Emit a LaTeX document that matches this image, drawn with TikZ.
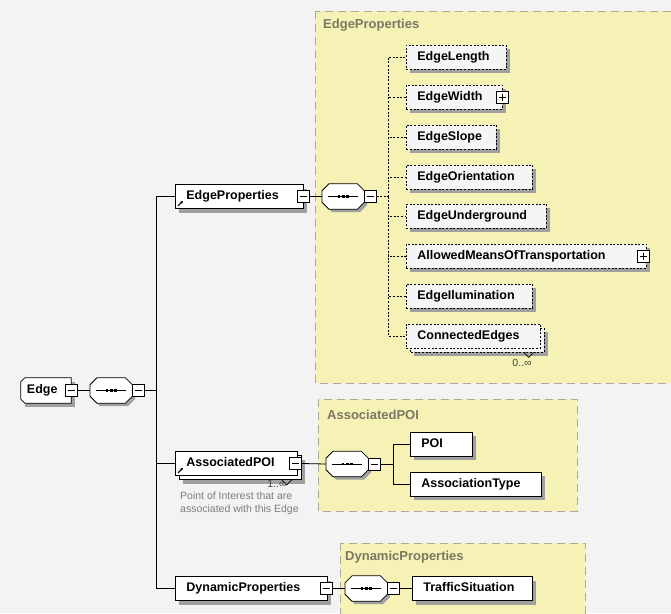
\documentclass[tikz,border=0pt]{standalone}
\usepackage{fontspec}
\setmainfont{Liberation Sans}
\usetikzlibrary{arrows.meta,calc}

\definecolor{bg}{RGB}{243,243,243}
\definecolor{panel}{RGB}{246,242,182}
\definecolor{panelline}{RGB}{172,170,152}
\definecolor{paneltext}{RGB}{122,120,100}
\definecolor{optfill}{RGB}{245,245,245}
\definecolor{note}{RGB}{125,125,125}
\definecolor{dropgray}{RGB}{160,160,160}

\tikzset{
  lbl/.style={font=\fontsize{12.5}{14}\selectfont\bfseries},
  elem/.style={lbl, rectangle, draw=black, line width=0.8pt, fill=white,
    anchor=west, minimum height=24pt, inner xsep=11pt, inner ysep=0pt,
    text height=9pt, text depth=3pt, align=left},
  optelem/.style={elem, fill=optfill, dash pattern=on 2pt off 1.6pt},
  seqnode/.style={rectangle, anchor=west, minimum width=42pt, minimum height=25pt, inner sep=0pt},
  minusbox/.style={rectangle, draw=black, line width=0.7pt, fill=white,
    minimum size=12pt, inner sep=0pt,
    path picture={\draw[line width=0.7pt] ([xshift=2.5pt]path picture bounding box.west) -- ([xshift=-2.5pt]path picture bounding box.east);}},
  plusbox/.style={minusbox,
    path picture={\draw[line width=0.7pt] ([xshift=2.5pt]path picture bounding box.west) -- ([xshift=-2.5pt]path picture bounding box.east)
      ([yshift=-2.5pt]path picture bounding box.north) -- ([yshift=2.5pt]path picture bounding box.south);}},
  panelbox/.style={fill=panel, draw=panelline, line width=1pt, dash pattern=on 8pt off 5pt},
  paneltitle/.style={anchor=west, text=paneltext, font=\fontsize{13}{15}\selectfont\bfseries, inner sep=0pt},
  link/.style={draw=black, line width=0.8pt},
  optlink/.style={draw=black, line width=0.7pt, dash pattern=on 2pt off 1.6pt},
  refarrow/.style={-{Stealth[length=3.2pt,width=3.2pt]}, line width=1.1pt},
  card/.style={font=\fontsize{10.5}{12}\selectfont, text=black!75, inner sep=0pt},
  notch/.style={draw=black, line width=0.7pt},
  dropfill/.style={fill=dropgray, draw=none}
}

% grey drop shadow of a box whose left edge is at #1, centre line at #2,
% width #3 and height #4, pushed #5 right and down
\newcommand{\dropbox}[5]{%
  \path[dropfill] (#1+#5,#2-#4/2+#5) rectangle (#1+#3+#5,#2+#4/2+#5);}
% grey drop shadow of a sequence compositor whose left edge is at #1, centre line at #2
\newcommand{\dropseq}[2]{%
  \path[dropfill] (#1+10,#2-9.5) -- (#1+38,#2-9.5) -- (#1+45,#2-2.5) -- (#1+45,#2+8.5)
    -- (#1+38,#2+15.5) -- (#1+10,#2+15.5) -- (#1+3,#2+8.5) -- (#1+3,#2-2.5) -- cycle;}
% octagonal sequence compositor drawn round a node
\newcommand{\seqglyph}[1]{%
  \filldraw[fill=white, draw=black, line width=0.8pt]
    ($(#1.north west)+(7,0)$) -- ($(#1.north east)+(-7,0)$)
    -- ($(#1.north east)+(0,7)$) -- ($(#1.south east)+(0,-7)$)
    -- ($(#1.south east)+(-7,0)$) -- ($(#1.south west)+(7,0)$)
    -- ($(#1.south west)+(0,-7)$) -- ($(#1.north west)+(0,7)$) -- cycle;
  \draw[line width=0.8pt] ($(#1.west)+(6,0)$) -- ($(#1.east)+(-6,0)$);
  \foreach \d in {-4.4,0,4.4}
    \fill ($(#1.center)+(\d-1.3,-1.3)$) rectangle ++(2.6,2.6);
}

\begin{document}
\begin{tikzpicture}[x=1pt,y=-1pt]
  \useasboundingbox (0,0) rectangle (671,613);
  \fill[bg] (0,0) rectangle (671,613);
  \path[panelbox] (315,11) rectangle (680,383);
  \path[panelbox] (318,399) rectangle (577,511);
  \path[panelbox] (340,543) rectangle (585,625);
  \node[paneltitle] (tEP) at (323,25) {EdgeProperties};
  \node[paneltitle] (tAP) at (327,415) {AssociatedPOI};
  \node[paneltitle] (tDP) at (345,557) {DynamicProperties};

  % drop shadows, drawn before the boxes that cast them
  \dropbox{21}{390.5}{50}{25}{4}
  \dropbox{175}{196.5}{128}{24}{4}
  \dropbox{175}{463.5}{122}{24}{8}
  \dropbox{175}{588.5}{152}{24}{4}
  \dropbox{410}{444}{62}{24}{4}
  \dropbox{410}{484}{131}{24}{4}
  \dropbox{412}{588.5}{120}{24}{4}
  \dropbox{406}{57}{100}{24}{4}
  \dropbox{406}{97}{96}{24}{4}
  \dropbox{406}{137}{90}{24}{4}
  \dropbox{406}{177}{126}{24}{4}
  \dropbox{406}{216}{140}{24}{4}
  \dropbox{406}{256}{240}{24}{4}
  \dropbox{406}{296}{126}{24}{4}
  \dropbox{406}{336}{134}{24}{8}
  \dropseq{90}{390.5}
  \dropseq{322}{196.5}
  \dropseq{326}{464}
  \dropseq{345}{588.5}

  % second sheet behind the repeatable elements
  \filldraw[fill=white, draw=black, line width=0.8pt] (179,455.5) rectangle (301,479.5);
  \filldraw[fill=optfill, draw=black, line width=0.8pt, dash pattern=on 2pt off 1.6pt]
    (410,328) rectangle (544,352);

  % root element: chamfered on its left side
  \node[rectangle, minimum width=50pt, minimum height=25pt, inner sep=0pt]
        (edge) at (46,390.5) {};
  \filldraw[fill=white, draw=black, line width=0.8pt]
    ($(edge.north west)+(4,0)$) -- (edge.north east) -- (edge.south east)
    -- ($(edge.south west)+(4,0)$) -- ($(edge.south west)+(0,-4)$) -- ($(edge.north west)+(0,4)$) -- cycle;
  \node[lbl, anchor=west, inner sep=0pt] (edgetext) at ([xshift=6pt]edge.west) {Edge};
  \node[minusbox] (edgem) at (edge.east) {};

  % sequence compositors
  \node[seqnode] (eseq) at (90,390.5) {};
  \node[seqnode] (epseq) at (322,196.5) {};
  \node[seqnode] (apseq) at (326,464) {};
  \node[seqnode] (dpseq) at (345,588.5) {};
  \seqglyph{eseq}
  \seqglyph{epseq}
  \seqglyph{apseq}
  \seqglyph{dpseq}
  \node[minusbox, anchor=west] (eseqm) at ([xshift=-0.5pt]eseq.east) {};
  \node[minusbox, anchor=west] (epseqm) at ([xshift=-0.5pt]epseq.east) {};
  \node[minusbox, anchor=west] (apseqm) at ([xshift=-0.5pt]apseq.east) {};
  \node[minusbox, anchor=west] (dpseqm) at ([xshift=-0.5pt]dpseq.east) {};
  \coordinate (bus) at (156,390.5);
  \coordinate (epbus) at (388,196.5);
  \coordinate (apbus) at (393,464);

  % child elements of Edge
  \node[elem, text width=106pt] (ep) at (175,196.5) {EdgeProperties};
  \node[minusbox] (epm) at (ep.east) {};
  \node[elem, text width=100pt] (ap) at (175,463.5) {AssociatedPOI};
  \node[minusbox] (apm) at ([xshift=-2pt]ap.east) {};
  \node[elem, text width=130pt] (dp) at (175,588.5) {DynamicProperties};
  \node[minusbox] (dpm) at ([xshift=-1pt]dp.east) {};

  \draw[refarrow] ($(ep.south west)+(3,-3)$) -- ++(5,-5);
  \draw[refarrow] ($(ap.south west)+(3,-3)$) -- ++(5,-5);

  % cardinality of AssociatedPOI and its note
  \draw[notch] ($(ap.south east)+(-16,4)$) -- ++(5,5) -- ++(5,-5);
  \node[card] (apcard) at (277,484) {1..∞};
  \node[anchor=north west, align=left, inner sep=0pt, text=note,
        font=\fontsize{10.5}{12.2}\selectfont] (apnote) at (180,492)
        {Point of Interest that are\\associated with this Edge};

  % EdgeProperties content
  \node[optelem, text width=78pt]  (elen)  at (406,57)  {EdgeLength};
  \node[optelem, text width=74pt]  (ewid)  at (406,97)  {EdgeWidth};
  \node[plusbox] (ewidp) at (ewid.east) {};
  \node[optelem, text width=68pt]  (eslp)  at (406,137) {EdgeSlope};
  \node[optelem, text width=104pt] (eori)  at (406,177) {EdgeOrientation};
  \node[optelem, text width=118pt] (eund)  at (406,216) {EdgeUnderground};
  \node[optelem, text width=218pt] (emot)  at (406,256) {AllowedMeansOfTransportation};
  \node[plusbox] (emotp) at ([xshift=-3pt]emot.east) {};
  \node[optelem, text width=104pt] (eill)  at (406,296) {EdgeIlumination};
  \node[optelem, text width=112pt] (econ) at (406,336) {ConnectedEdges};
  \draw[notch] ($(econ.south east)+(-17,4)$) -- ++(5,5) -- ++(5,-5);
  \node[card] (econcard) at (522,363) {0..∞};

  % AssociatedPOI content
  \node[elem, text width=40pt]  (poi)   at (410,444) {POI};
  \node[elem, text width=109pt] (atype) at (410,484) {AssociationType};

  % DynamicProperties content
  \node[elem, text width=98pt] (traf) at (412,588.5) {TrafficSituation};

  % connectors
  \draw[link] (edgem.east) -- (eseq.west);
  \draw[link] (eseqm.east) -- (bus);
  \draw[link] (bus) |- (ep.west);
  \draw[link] (bus) |- (ap.west);
  \draw[link] (bus) |- (dp.west);

  \draw[link] (epm.east) -- (epseq.west);
  \draw[optlink] (epseqm.east) -- (epbus);
  \foreach \n in {elen,ewid,eslp,eori,eund,emot,eill,econ}
    \draw[optlink] (epbus) |- (\n.west);

  \draw[link] (apm.east) -- (apseq.west);
  \draw[link] (apseqm.east) -- (apbus);
  \draw[link] (apbus) |- (poi.west);
  \draw[link] (apbus) |- (atype.west);

  \draw[link] (dpm.east) -- (dpseq.west);
  \draw[link] (dpseqm.east) -- (traf.west);
\end{tikzpicture}
\end{document}
